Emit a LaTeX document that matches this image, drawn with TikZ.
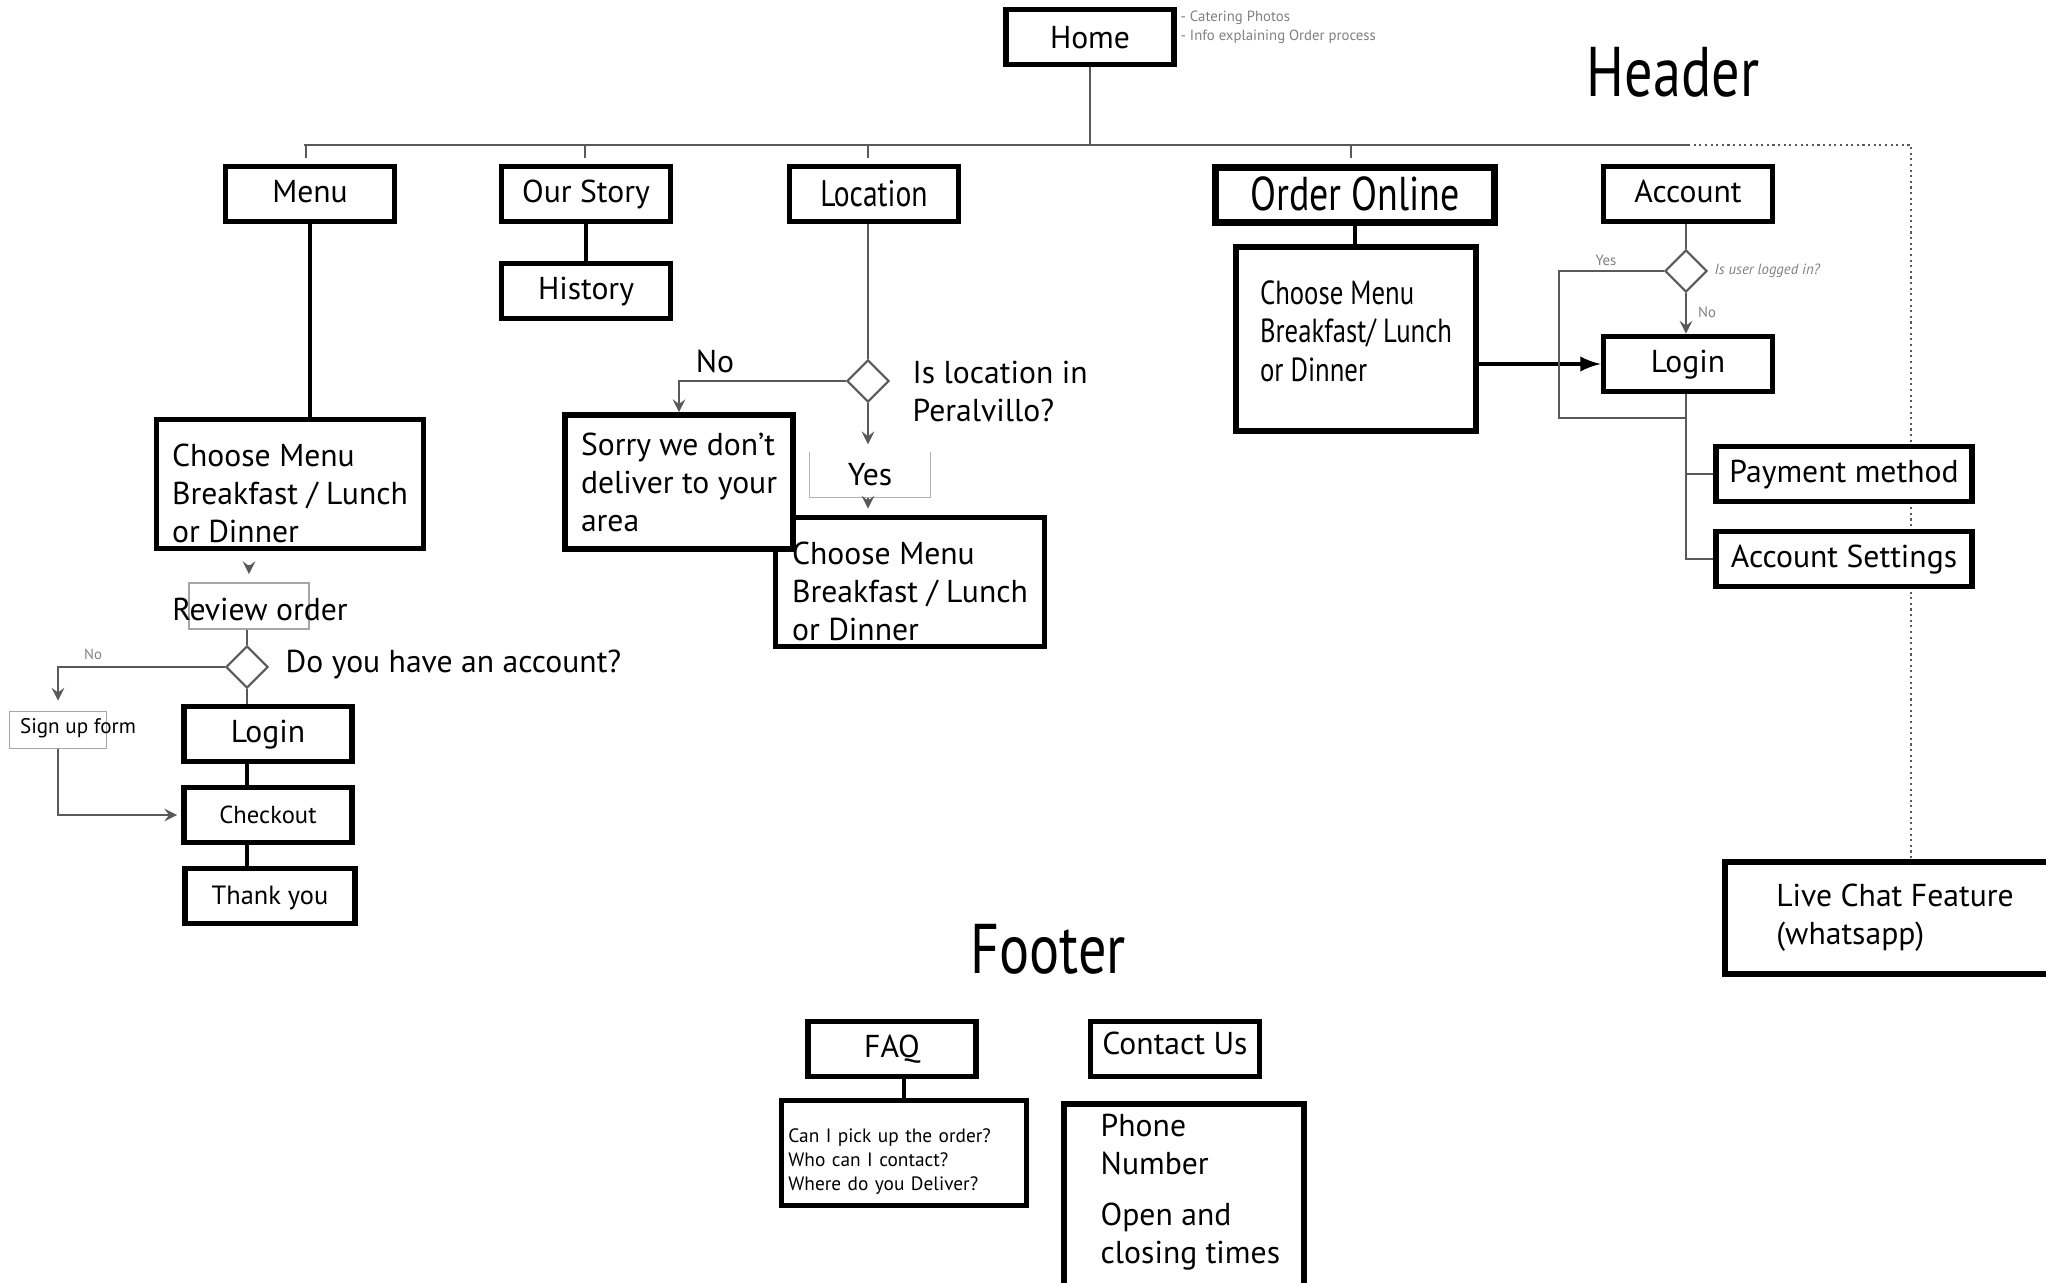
\documentclass[tikz,border=0pt]{standalone}
\usepackage{fontspec}
\setmainfont{PT Sans}
\newfontfamily\condfont[FakeStretch=0.8]{PT Sans}
\usetikzlibrary{shapes.geometric, positioning, arrows}

\tikzset{
  bigbox/.style={draw, fill=white, line width=1.6pt, inner sep=0pt, font=\fontsize{9}{10.8}\selectfont},
  thinbox/.style={draw=gray!70, line width=0.5pt, inner sep=0pt},
  gline/.style={draw=gray!70!black, line width=0.6pt},
  bline/.style={draw, line width=1pt},
  decide/.style={diamond, draw=gray!70!black, line width=0.6pt, minimum width=0.42cm, minimum height=0.42cm, inner sep=0pt},
  note/.style={text=gray, font=\fontsize{4.2}{5}\selectfont, inner sep=0pt},
  lbl/.style={inner sep=0pt, font=\fontsize{9}{10.8}\selectfont},
  topbox/.style={bigbox, minimum width=1.69cm, minimum height=0.55cm, text height=6.5pt, text depth=1.8pt}
}

\begin{document}
\begin{tikzpicture}[x=0.01cm, y=-0.01cm]
\useasboundingbox (0,0) rectangle (2046,1282);
\clip (0,0) rectangle (2046,1282);
%
\node[lbl, font=\condfont\fontsize{20}{22}\selectfont] (header) at (1673,72) {Header};
\node[lbl, font=\condfont\fontsize{20}{22}\selectfont] (footer) at (1048,949) {Footer};
%
\node[topbox, minimum width=1.68cm, text height=8.5pt] (home) at (1090,37) {Home};
\node[note, anchor=west] (catering) at (1180,18) {- Catering Photos};
\node[note, anchor=west] (process) at (1180,37) {- Info explaining Order process};
%
\node[topbox] (menu) at (310,194) {Menu};
\node[topbox] (story) at (586,194) {Our Story};
\node[topbox] (history) at (586,291) {History};
\node[topbox, text height=9.1pt, text depth=2pt, font=\condfont\fontsize{10.5}{12}\selectfont] (location) at (874,194) {Location};
\node[topbox, line width=2pt, minimum width=2.78cm, text height=11.3pt, text depth=2.6pt, font=\condfont\fontsize{13.5}{15}\selectfont] (online) at (1355,195) {Order Online};
\node[topbox] (account) at (1688,194) {Account};
%
\coordinate (barleft) at (304,145);
\coordinate (barright) at (1688,145);
\coordinate (barend) at (1911,145);
\draw[gline] (home.south) -- (home.south |- barleft);
\draw[gline] (barleft) -- (barright);
\foreach \x in {306,585,868,1351}
  \draw[gline] (\x,145) -- (\x,158);
%
% menu
\node[bigbox, minimum width=2.67cm, minimum height=1.29cm, align=left] (menuchoice) at (290,484) {\rule{0pt}{12pt}Choose Menu\\Breakfast / Lunch\\or Dinner};
\node[thinbox, minimum width=1.2cm, minimum height=0.46cm] (review) at (249,606) {};
\node[lbl] (reviewtxt) at (260,609) {Review order};
\node[decide] (haveacc) at (247,667) {};
\node[lbl, anchor=west] (haveacctxt) at (285,664) {Do you have an account?};
\node[note] (haveno) at (93,654) {No};
\node[thinbox, minimum width=0.97cm, minimum height=0.37cm] (signup) at (58,730) {};
\node[lbl, font=\fontsize{6}{7}\selectfont] (signuptxt) at (78,728) {Sign up form};
\node[topbox, minimum width=1.68cm] (login) at (268,734) {Login};
\node[topbox, minimum width=1.68cm, font=\fontsize{7}{8}\selectfont] (checkout) at (268,815) {Checkout};
\node[topbox, minimum width=1.7cm, font=\fontsize{7.5}{9}\selectfont] (thanks) at (270,896) {Thank you};
%
\draw[bline] (menu.south) -- (menu.south |- menuchoice.north);
\draw[gline, -stealth, shorten <=0.14cm, shorten >=0.08cm] (review.north |- menuchoice.south) -- (review.north);
\draw[gline] (haveacc.north |- review.south) -- (haveacc.north);
\draw[gline, -stealth, shorten >=0.1cm] (haveacc.west) -| (signup.north);
\draw[gline] (haveacc.south) -- (haveacc.south |- login.north);
\draw[bline] (haveacc |- login.south) -- (haveacc |- checkout.north);
\draw[bline] (haveacc |- checkout.south) -- (haveacc |- thanks.north);
\draw[gline, -stealth, shorten >=0.04cm] (signup.south) |- (checkout.west);
%
% our story
\draw[bline] (story) -- (history);
%
% location
\node[decide] (inarea) at (868,381) {};
\node[lbl, anchor=west, align=left] (inareatxt) at (912,391) {Is location in\\Peralvillo?};
\node[lbl] (areano) at (715,361) {No};
\node[bigbox, minimum width=2.69cm, minimum height=1.29cm, align=left] (locchoice) at (910,582) {\rule{0pt}{11.5pt}Choose Menu\\Breakfast / Lunch\\or Dinner};
\node[bigbox, minimum width=2.28cm, minimum height=1.34cm, align=left] (sorry) at (679,482) {Sorry we don’t\\deliver to your\\area};
\node[lbl, minimum width=1.19cm, minimum height=0.44cm] (yes) at (870,475) {Yes};
\draw[gline, draw=gray!60, line width=0.4pt] (yes.north west) -- (yes.south west) -- (yes.south east) -- (yes.north east);
%
\draw[gline] (inarea.north |- location.south) -- (inarea.north);
\draw[gline, -stealth] (inarea.west) -| (sorry.north);
\draw[gline, -stealth, shorten >=0.08cm] (inarea.south) -- (inarea.south |- yes.north);
\draw[gline, -stealth, shorten >=0.06cm] (inarea.south |- yes.south) -- (inarea.south |- locchoice.north);
%
% order online
\node[bigbox, minimum width=2.4cm, minimum height=1.84cm, align=left, font=\condfont\fontsize{9.5}{10.9}\selectfont] (onlinechoice) at (1356,339) {Choose Menu\\Breakfast/ Lunch\\or Dinner\rule[-4.5pt]{0pt}{0pt}};
\draw[line width=1.2pt] (online.south) -- (online.south |- onlinechoice.north);
%
% account
\node[decide] (loggedin) at (1686,271) {};
\node[note, font=\itshape\fontsize{4.2}{5}\selectfont, anchor=west] (loggedintxt) at (1714,271) {Is user logged in?};
\node[note] (accyes) at (1606,260) {Yes};
\node[note] (accno) at (1707,312) {No};
\node[topbox] (acclogin) at (1688,364) {Login};
\node[bigbox, minimum width=3.4cm, minimum height=1.12cm, align=left] (livechat) at (1895,918) {Live Chat Feature\\(whatsapp)};
\draw[gline, densely dotted] (barright) -- (barend) -- (barend |- livechat.north);
\node[topbox, minimum width=2.56cm] (payment) at (1844,474) {Payment method};
\node[topbox, minimum width=2.56cm] (settings) at (1844,559) {Account Settings};
%
\draw[line width=1pt, -latex] (onlinechoice.east |- acclogin.west) -- (acclogin.west);
\draw[gline] (loggedin.north |- account.south) -- (loggedin.north);
\draw[gline, -stealth] (loggedin.south) -- (loggedin.south |- acclogin.north);
\coordinate (yesturn) at (1559,418);
\draw[gline] (loggedin.west) -| (yesturn) -- (yesturn -| loggedin);
\draw[gline] (loggedin |- acclogin.south) |- (settings.west);
\draw[gline] (loggedin |- payment.west) -- (payment.west);
%
% footer
\node[topbox, minimum width=1.68cm] (faq) at (892,1049) {FAQ};
\node[bigbox, minimum width=2.45cm, minimum height=1.05cm, text width=2.31cm, align=left, font=\fontsize{5.5}{6.8}\selectfont] (faqlist) at (904,1153) {\rule{0pt}{9pt}Can I pick up the order?\\Who can I contact?\\Where do you Deliver?};
\node[topbox, text height=5pt] (contact) at (1175,1049) {Contact Us};
\node[bigbox, minimum width=2.4cm, minimum height=2.2cm, anchor=north west] (contactinfo) at (1061,1101) {};
\node[lbl, anchor=north west, align=left] (contacttxt) at (1100,1113) {Phone\\Number\\[1.3mm]Open and\\closing times};
\draw[bline] (faqlist.north |- faq.south) -- (faqlist.north);
\end{tikzpicture}
\end{document}
